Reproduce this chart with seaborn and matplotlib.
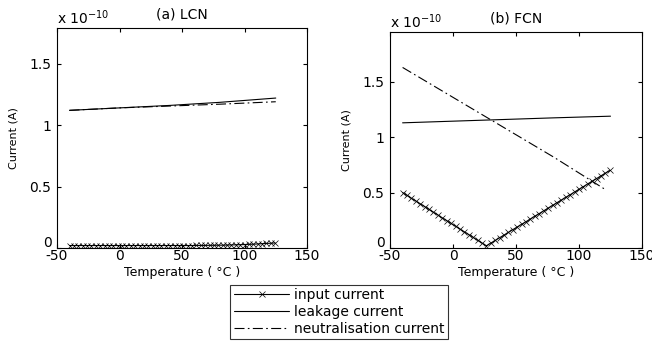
import numpy as np
import pandas as pd
import matplotlib
matplotlib.use("Agg")
import matplotlib.pyplot as plt
import matplotlib.transforms as mtransforms
import seaborn as sns
from matplotlib.lines import Line2D

sns.set_style("ticks")
plt.rcParams['font.family'] = ['DejaVu Sans']
plt.rcParams['text.color'] = 'k'
plt.rcParams['axes.labelcolor'] = 'k'
plt.rcParams['xtick.color'] = 'k'
plt.rcParams['ytick.color'] = 'k'

# Temperatures (deg C) of the measured points
temperature = [-40, -36.5, -33, -29.5, -26, -22.5, -19, -15.5, -12, -8.5, -5, -1.5,
               2, 5.5, 9, 12.5, 16, 19.5, 23, 26.5, 30, 33.5, 37, 40.5, 44, 47.5,
               51, 54.5, 58, 61.5, 65, 68.5, 72, 75.5, 79, 82.5, 86, 89.5, 93, 96.5,
               100, 103.5, 107, 110.5, 114, 117.5, 121, 124.5]

# (a) LCN, currents in units of 1e-10 A
lcn_input = [0.02, 0.02, 0.02, 0.02, 0.02, 0.02, 0.02, 0.02, 0.02, 0.02, 0.02, 0.02,
             0.02, 0.02, 0.02, 0.02, 0.02, 0.02, 0.02, 0.02, 0.02, 0.02, 0.02, 0.02,
             0.02, 0.02, 0.02, 0.02, 0.02, 0.021, 0.021, 0.021, 0.022, 0.022, 0.023, 0.023,
             0.024, 0.025, 0.026, 0.027, 0.028, 0.03, 0.031, 0.033, 0.035, 0.037, 0.039, 0.041]
line_temp = [-40, 0, 40, 80, 125]
lcn_leakage = [1.12, 1.14, 1.16, 1.185, 1.22]
lcn_neutral = [1.12, 1.14, 1.155, 1.17, 1.19]

# (b) FCN
fcn_input = [0.50, 0.475, 0.449, 0.424, 0.399, 0.374, 0.348, 0.323, 0.298, 0.272,
             0.247, 0.222, 0.197, 0.171, 0.146, 0.121, 0.096, 0.070, 0.045, 0.020,
             0.044, 0.068, 0.093, 0.117, 0.141, 0.166, 0.190, 0.214, 0.238, 0.263,
             0.287, 0.311, 0.336, 0.360, 0.384, 0.409, 0.433, 0.457, 0.481, 0.506,
             0.530, 0.554, 0.579, 0.603, 0.627, 0.652, 0.676, 0.700]
fcn_line_temp = [-40, 0, 40, 80, 122]
fcn_leakage = [1.13, 1.145, 1.16, 1.175, 1.19]
fcn_neutral = [1.63, 1.36, 1.09, 0.82, 0.52]

titles = ["(a) LCN", "(b) FCN"]
ylims = [1.79, 1.95]
xticks = [-50, 0, 50, 100, 150]
yticks = [0, 0.5, 1, 1.5]

fig = plt.figure(figsize=(6.52, 3.49), dpi=100)
ax1 = fig.add_axes([57/652, 1-248/349, 250/652, 220/349])
ax2 = fig.add_axes([390/652, 1-248/349, 252/652, 216/349])

dashdot = (0, (9, 3, 1.5, 3))
lw = 0.8
msize = 5
mew = 0.5
datasets = [
    (ax1, lcn_input, line_temp, lcn_leakage, line_temp, lcn_neutral),
    (ax2, fcn_input, line_temp, fcn_leakage, fcn_line_temp, fcn_neutral),
]
for i, (ax, inp, lt, leak, nt, neut) in enumerate(datasets):
    sns.lineplot(x=temperature, y=inp, ax=ax, color='k', lw=lw, marker='x',
                 markersize=msize, markeredgewidth=mew, markeredgecolor='k',
                 markerfacecolor='k', estimator=None)
    sns.lineplot(x=lt, y=leak, ax=ax, color='k', lw=lw, estimator=None)
    sns.lineplot(x=nt, y=neut, ax=ax, color='k', lw=lw, linestyle=dashdot, estimator=None)
    ax.set_xlim(-50, 150)
    ax.set_ylim(0, ylims[i])
    ax.set_xticks(xticks)
    ax.set_xticklabels([str(t) for t in xticks])
    ax.set_yticks(yticks)
    ax.set_yticklabels(['0', '0.5', '1', '1.5'])
    ax.tick_params(direction='in', top=True, right=True, labelsize=10, length=3,
                   width=0.8, colors='k')
    ax.tick_params(axis='x', pad=1)
    ax.tick_params(axis='y', pad=4)
    # lift the "0" y-tick label a little so it clears the "-50" x-tick label
    zero_lbl = ax.get_yticklabels()[0]
    zero_lbl.set_transform(zero_lbl.get_transform() +
                           mtransforms.ScaledTranslation(0, 4.5/72, fig.dpi_scale_trans))
    for s in ax.spines.values():
        s.set_visible(True)
        s.set_linewidth(0.8)
        s.set_color('k')
    ax.set_xlabel("Temperature ( °C )", fontsize=9, labelpad=2)
    ax.set_ylabel("Current (A)", fontsize=8, labelpad=8)
    ax.set_title(titles[i], fontsize=10, pad=7)
    ax.text(0.0, 1.005, r"x 10$^{-10}$", transform=ax.transAxes, fontsize=10,
            ha='left', va='bottom')

handles = [
    Line2D([], [], color='k', lw=lw, marker='x', markersize=msize, markeredgewidth=mew),
    Line2D([], [], color='k', lw=lw),
    Line2D([], [], color='k', lw=lw, linestyle=dashdot),
]
labels = ["input current", "leakage current", "neutralisation current"]
leg = fig.legend(handles, labels, loc='center', bbox_to_anchor=(339/652, 1-312/349),
                 fontsize=10, frameon=True, fancybox=False, edgecolor='k',
                 handlelength=4.0, handletextpad=0.3, borderpad=0.25, labelspacing=0.2,
                 numpoints=1)
leg.get_frame().set_linewidth(0.8)

fig.savefig("out.png", dpi=100)
